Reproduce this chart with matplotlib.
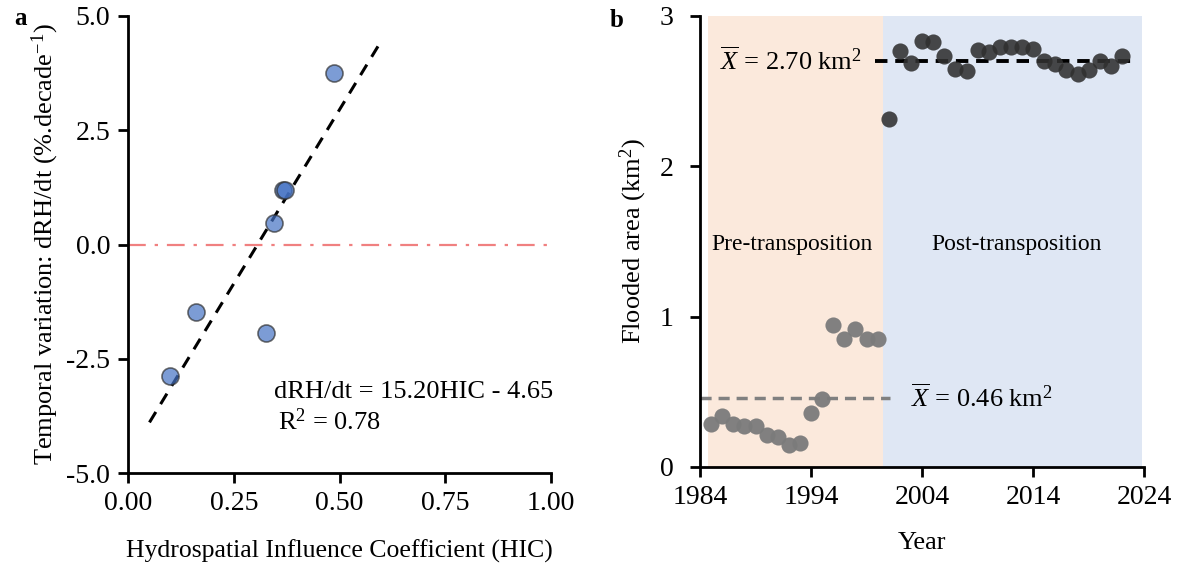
import matplotlib
matplotlib.use("Agg")
import matplotlib.pyplot as plt
import numpy as np

plt.rcParams['font.family'] = ['Liberation Serif', 'DejaVu Serif']
plt.rcParams['mathtext.fontset'] = 'custom'
plt.rcParams['mathtext.rm'] = 'Liberation Serif'
plt.rcParams['mathtext.it'] = 'Liberation Serif:italic'

# Panel a data
hic = [0.487, 0.366, 0.372, 0.346, 0.160, 0.325, 0.098]
drh = [3.75, 1.20, 1.20, 0.47, -1.48, -1.93, -2.87]
fit_slope = 15.20
fit_intercept = -4.65
fit_x = [0.05, 0.60]

# Panel b data
pre_years = list(range(1985, 2001))
pre_area = [0.284, 0.34, 0.284, 0.273, 0.273, 0.213, 0.20, 0.146, 0.157,
            0.36, 0.45, 0.945, 0.85, 0.92, 0.85, 0.85]
post_years = list(range(2001, 2023))
post_area = [2.315, 2.768, 2.686, 2.834, 2.825, 2.735, 2.648, 2.635, 2.77, 2.76,
             2.79, 2.79, 2.79, 2.78, 2.70, 2.68, 2.64, 2.615, 2.64, 2.70, 2.67, 2.73]
pre_mean = 0.46
post_mean = 2.70

fig = plt.figure(figsize=(11.83, 5.68), dpi=100)

# ---------- Panel a ----------
ax1 = fig.add_axes([0.1085, 0.167, 0.357, 0.805])
ax1.axhline(0, color='#f08080', lw=1.6, ls=(0, (8, 4, 1.5, 4)), zorder=1)
fx = np.array(fit_x)
ax1.plot(fx, fit_slope * fx + fit_intercept, color='black', lw=2.2,
         ls=(0, (4, 3)), zorder=2)
ax1.scatter(hic, drh, s=150, color='#4472c4', alpha=0.7, edgecolor='#303030',
            linewidth=1.2, zorder=3)
ax1.set_xlim(0, 1)
ax1.set_ylim(-5, 5)
ax1.set_xticks([0, 0.25, 0.5, 0.75, 1.0])
ax1.set_xticklabels(['0.00', '0.25', '0.50', '0.75', '1.00'])
ax1.set_yticks([-5, -2.5, 0, 2.5, 5])
ax1.set_yticklabels(['-5.0', '-2.5', '0.0', '2.5', '5.0'])
ax1.set_xlabel('Hydrospatial Influence Coefficient (HIC)', fontsize=18.5, labelpad=17)
ax1.set_ylabel('Temporal variation: dRH/dt (%.decade$^{-1}$)', fontsize=19, labelpad=4)
ax1.text(0.345, -3.22, 'dRH/dt = 15.20HIC - 4.65', fontsize=19, va='center', ha='left')
ax1.text(0.355, -3.87, 'R$^{2}$ = 0.78', fontsize=19, va='center', ha='left')
ax1.text(-0.27, 4.95, 'a', fontsize=18, fontweight='bold', va='center', ha='left')

# ---------- Panel b ----------
ax2 = fig.add_axes([0.5917, 0.178, 0.3755, 0.794])
ax2.axvspan(1984.7, 2000.5, ymin=0, ymax=1, color='#fbe9dc', lw=0, zorder=0)
ax2.axvspan(2000.5, 2023.8, ymin=0, ymax=1, color='#dfe7f4', lw=0, zorder=0)
ax2.plot([1984, 2001.1], [pre_mean, pre_mean], color='#808080', lw=2.5,
         ls=(0, (3.2, 2)), zorder=2)
ax2.plot([1999.8, 2023.3], [post_mean, post_mean], color='black', lw=2.8,
         ls=(0, (3.2, 2)), zorder=2)
ax2.scatter(pre_years, pre_area, s=135, color='#7b7b7b', alpha=0.95, lw=0, zorder=3)
ax2.scatter(post_years, post_area, s=135, color='#303030', alpha=0.88, lw=0, zorder=3)
ax2.set_xlim(1984, 2024)
ax2.set_ylim(0, 3)
ax2.set_xticks([1984, 1994, 2004, 2014, 2024])
ax2.set_yticks([0, 1, 2, 3])
ax2.set_xlabel('Year', fontsize=19, labelpad=16)
ax2.set_ylabel('Flooded area (km$^{2}$)', fontsize=19, labelpad=8)
ax2.text(1992.3, 1.48, 'Pre-transposition', fontsize=17, ha='center', va='center')
ax2.text(2012.5, 1.48, 'Post-transposition', fontsize=17, ha='center', va='center')
ax2.text(1985.8, 2.70, r'$\overline{X}$ = 2.70 km$^{2}$', fontsize=19, ha='left', va='center')
ax2.text(2003.0, 0.46, r'$\overline{X}$ = 0.46 km$^{2}$', fontsize=19, ha='left', va='center')
ax2.text(1975.9, 2.97, 'b', fontsize=18, fontweight='bold', va='center', ha='left')

for ax in (ax1, ax2):
    for s in ('top', 'right'):
        ax.spines[s].set_visible(False)
    for s in ('left', 'bottom'):
        ax.spines[s].set_linewidth(2.0)
    ax.tick_params(direction='out', length=7, width=2.0, labelsize=20, pad=6)
ax2.tick_params(axis='y', pad=12)

fig.savefig('out.png', dpi=100)
